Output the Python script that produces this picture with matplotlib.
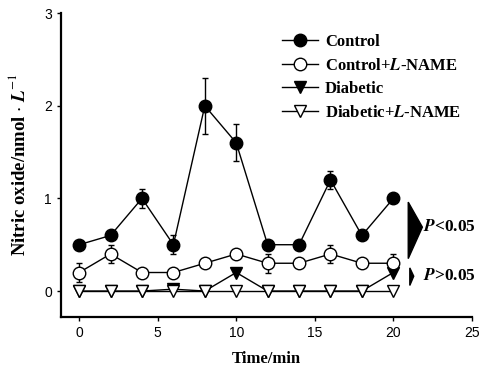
import matplotlib.pyplot as plt
from matplotlib.patches import Polygon

plt.rcParams['mathtext.fontset'] = 'stix'

time = [0, 2, 4, 6, 8, 10, 12, 14, 16, 18, 20]

control = [0.5, 0.6, 1.0, 0.5, 2.0, 1.6, 0.5, 0.5, 1.2, 0.6, 1.0]
control_err = [0, 0, 0.1, 0.1, 0.3, 0.2, 0, 0, 0.1, 0, 0]

control_lname = [0.2, 0.4, 0.2, 0.2, 0.3, 0.4, 0.3, 0.3, 0.4, 0.3, 0.3]
control_lname_err = [0.1, 0.1, 0, 0, 0, 0, 0.1, 0, 0.1, 0, 0.1]

diabetic = [0, 0, 0, 0.02, 0, 0.2, 0, 0, 0, 0, 0.2]
diabetic_lname = [0, 0, 0, 0, 0, 0, 0, 0, 0, 0, 0]

labels = ['Control', r'Control+$\mathbfit{L}$-NAME', 'Diabetic', r'Diabetic+$\mathbfit{L}$-NAME']
p_labels = [r'$\mathbfit{P}$<0.05', r'$\mathbfit{P}$>0.05']

serif = 'Liberation Serif'
sans = 'Liberation Sans'

fig = plt.figure(figsize=(4.81, 3.76), dpi=100)
ax = fig.add_axes([0.127, 0.157, 0.854, 0.808])

kw = dict(color='black', lw=1.0, ms=9, capsize=2.5, elinewidth=1.0, mew=1.0)
ax.errorbar(time, diabetic, fmt='v-', mfc='black', label=labels[2], zorder=2, **kw)
ax.errorbar(time, diabetic_lname, fmt='v-', mfc='white', label=labels[3], zorder=3, **kw)
ax.errorbar(time, control_lname, yerr=control_lname_err, fmt='o-', mfc='white',
            label=labels[1], zorder=4, **kw)
ax.errorbar(time, control, yerr=control_err, fmt='o-', mfc='black', label=labels[0],
            zorder=5, **kw)

ax.set_xlim(-1.15, 25)
ax.set_ylim(-0.28, 3)
ax.set_xticks([0, 5, 10, 15, 20, 25])
ax.set_yticks([0, 1, 2, 3])
ax.spines['top'].set_visible(False)
ax.spines['right'].set_visible(False)
ax.spines['left'].set_linewidth(1.6)
ax.spines['bottom'].set_linewidth(1.6)
ax.tick_params(length=3, width=1, labelsize=10)
for t in ax.get_xticklabels() + ax.get_yticklabels():
    t.set_fontfamily(sans)

ax.set_xlabel('Time/min', fontfamily=serif, fontweight='bold', fontsize=12, labelpad=8)
ax.set_ylabel(r'Nitric oxide/nmol $\cdot$ $\mathbfit{L}^{-1}$', fontfamily=serif,
              fontweight='bold', fontsize=13.5, labelpad=11)

h, l = ax.get_legend_handles_labels()
order = [3, 2, 0, 1]
leg = ax.legend([h[i][0] for i in order], [l[i] for i in order], loc='upper right',
                bbox_to_anchor=(1.01, 0.98), frameon=False, handlelength=2.2,
                handletextpad=0.4, labelspacing=0.45,
                prop={'family': serif, 'weight': 'bold', 'size': 12})

# significance wedges
big = Polygon([[20.95, 0.96], [21.85, 0.69], [20.95, 0.35]], closed=True,
              color='black', clip_on=False)
small = Polygon([[21.05, 0.25], [21.3, 0.16], [21.05, 0.06]], closed=True,
                color='black', clip_on=False)
ax.add_patch(big)
ax.add_patch(small)
ax.text(21.9, 0.69, p_labels[0], fontfamily=serif, fontweight='bold', fontsize=12.5,
        va='center', ha='left', clip_on=False)
ax.text(21.9, 0.16, p_labels[1], fontfamily=serif, fontweight='bold', fontsize=12.5,
        va='center', ha='left', clip_on=False)

fig.savefig('out.png', dpi=100)
